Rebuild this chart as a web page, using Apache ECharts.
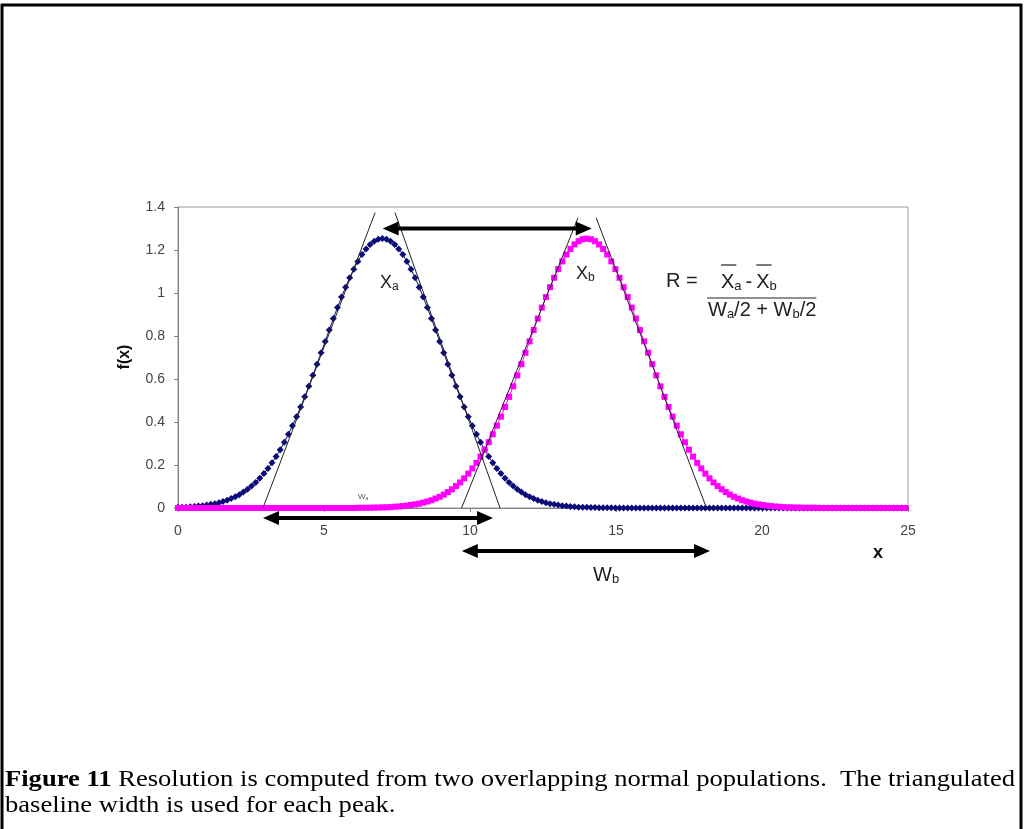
<!DOCTYPE html>
<html><head><meta charset="utf-8">
<script src="https://cdn.jsdelivr.net/npm/echarts@6/dist/echarts.min.js"></script>
<style>html,body{margin:0;padding:0;background:#fff}#c{width:1024px;height:829px}</style>
</head><body><div id="c"></div><script>
// sampling step of the x grid (points are evenly spaced along x)
const X_STEP = 0.14;
const xTicks = [0, 5, 10, 15, 20, 25];
const yTicks = [0, 0.2, 0.4, 0.6, 0.8, 1, 1.2, 1.4];

// population a (blue diamonds), peak near x = 7
const blueY = [
0.003,0.003,0.004,0.006,0.007,0.009,0.011,0.014,0.017,0.020,
0.025,0.030,0.036,0.044,0.052,0.062,0.074,0.087,0.102,0.119,
0.138,0.160,0.184,0.210,0.239,0.271,0.306,0.343,0.383,0.425,
0.470,0.517,0.566,0.617,0.669,0.722,0.775,0.828,0.881,0.932,
0.981,1.027,1.071,1.111,1.147,1.179,1.205,1.226,1.241,1.250,
1.253,
1.250,1.241,1.226,1.205,1.179,1.147,1.111,1.071,1.027,0.981,
0.932,0.881,0.828,0.775,0.722,0.669,0.617,0.566,0.517,0.470,
0.425,0.383,0.343,0.306,0.271,0.239,0.210,0.184,0.160,0.138,
0.119,0.102,0.087,0.074,0.062,0.052,0.044,0.036,0.030,0.025,
0.020,0.017,0.014,0.011,0.009,0.007,0.006,0.004,0.003,0.003,
0.002,0.002,0.001,0.001,0.001,0.001,
0,0,0,0,0,0,0,0,0,0,0,0,
0,0,0,0,0,0,0,0,0,0,0,0,
0,0,0,0,0,0,0,0,0,0,0,0,
0,0,0,0,0,0,0,0,0,0,0,0,
0,0,0,0,0,0,0,0,0,0,0,0,
0,0,0,0,0,0,0,0,0,0,0,0
];

// population b (magenta squares), peak near x = 14
const pinkY = [
0,0,0,0,0,0,0,0,0,0,0,
0,0,0,0,0,0,0,0,0,0,0,
0,0,0,0,0,0,0,0,0,0,0,
0,0,0,0,0,0,0,0,0,0,0,
0.001,0.001,0.001,0.001,0.002,0.002,
0.003,0.003,0.004,0.006,0.007,0.009,0.011,0.014,0.017,0.020,
0.025,0.030,0.036,0.044,0.052,0.062,0.074,0.087,0.102,0.119,
0.138,0.160,0.184,0.210,0.239,0.271,0.306,0.343,0.383,0.425,
0.470,0.517,0.566,0.617,0.669,0.722,0.775,0.828,0.881,0.932,
0.981,1.027,1.071,1.111,1.147,1.179,1.205,1.226,1.241,1.250,
1.253,
1.250,1.241,1.226,1.205,1.179,1.147,1.111,1.071,1.027,0.981,
0.932,0.881,0.828,0.775,0.722,0.669,0.617,0.566,0.517,0.470,
0.425,0.383,0.343,0.306,0.271,0.239,0.210,0.184,0.160,0.138,
0.119,0.102,0.087,0.074,0.062,0.052,0.044,0.036,0.030,0.025,
0.020,0.017,0.014,0.011,0.009,0.007,0.006,0.004,0.003,0.003,
0.002,0.002,0.001,0.001,0.001,0.001,
0,0,0,0,0,0,0,0,0,0,0,
0,0,0,0,0,0,0,0,0,0,0
];

// triangulation tangent lines [x, y] end points
const tanBlueL = [[2.91, 0], [6.75, 1.374]];
const tanBlueR = [[7.43, 1.374], [11.03, 0]];
const tanPinkL = [[9.71, 0], [13.7, 1.35]];
const tanPinkR = [[14.32, 1.35], [18.1, 0]];

// arrows: [xStart, xEnd, y]
const arrowTop = [7.01, 14.17, 1.30];
const arrowWa = [2.91, 10.79, -0.046];
const arrowWb = [9.72, 18.22, -0.20];

const captionLine1 = ['Figure 11', ' Resolution is computed from two overlapping normal populations.  The triangulated'];
const captionLine2 = 'baseline width is used for each peak.';

const toPairs = ys => ys.map((v, i) => [+(i * X_STEP).toFixed(2), v]);

const chart = echarts.init(document.getElementById('c'), null, {renderer: 'canvas'});
const FONT = "'Liberation Sans', Arial, sans-serif";
const SERIF = "'Liberation Serif', 'Times New Roman', serif";
const tickColor = '#444';

chart.setOption({
  animation: false,
  backgroundColor: '#fff',
  grid: {left: 178, top: 207, width: 730, height: 301, show: true, borderColor: '#999', borderWidth: 1, backgroundColor: 'transparent'},
  xAxis: {
    type: 'value', min: xTicks[0], max: xTicks[xTicks.length - 1], interval: 5,
    axisLine: {onZero: false, lineStyle: {color: '#808080'}},
    axisTick: {show: true, length: 4, lineStyle: {color: '#808080'}},
    splitLine: {show: false},
    axisLabel: {color: tickColor, fontFamily: FONT, fontSize: 14, margin: 16}
  },
  yAxis: {
    type: 'value', min: yTicks[0], max: yTicks[yTicks.length - 1], interval: 0.2,
    axisLine: {show: true, lineStyle: {color: '#808080'}},
    axisTick: {show: true, length: 4, lineStyle: {color: '#808080'}},
    splitLine: {show: false},
    axisLabel: {color: tickColor, fontFamily: FONT, fontSize: 14, margin: 13,
      formatter: v => String(+v.toFixed(1))}
  },
  series: [
    {type: 'line', data: toPairs(blueY), symbol: 'diamond', symbolSize: 7, clip: false,
     itemStyle: {color: '#0c0c78'}, lineStyle: {color: '#0c0c78', width: 1}, z: 3},
    {type: 'line', data: toPairs(pinkY), symbol: 'rect', symbolSize: 6, clip: false,
     itemStyle: {color: '#ff00ff'}, lineStyle: {color: '#ff00ff', width: 1}, z: 4},
    ...[tanBlueL, tanBlueR, tanPinkL, tanPinkR].map(d => ({
      type: 'line', data: d, symbol: 'none', clip: false,
      lineStyle: {color: '#222', width: 1}, z: 5
    }))
  ]
});

const P = (x, y) => chart.convertToPixel({gridIndex: 0}, [x, y]);

function arrow(spec) {
  const a = P(spec[0], spec[2]), b = P(spec[1], spec[2]);
  const L = 16, H = 7;
  return [
    {type: 'line', z: 100, shape: {x1: a[0] + L - 2, y1: a[1], x2: b[0] - L + 2, y2: b[1]}, style: {stroke: '#000', lineWidth: 4}},
    {type: 'polygon', z: 100, shape: {points: [[a[0], a[1]], [a[0] + L, a[1] - H], [a[0] + L, a[1] + H]]}, style: {fill: '#000'}},
    {type: 'polygon', z: 100, shape: {points: [[b[0], b[1]], [b[0] - L, b[1] - H], [b[0] - L, b[1] + H]]}, style: {fill: '#000'}}
  ];
}

const mctx = document.createElement('canvas').getContext('2d');
function measure(t, size, weight, family) {
  mctx.font = (weight || 'normal') + ' ' + size + 'px ' + (family || FONT);
  return mctx.measureText(t).width;
}
// lay out text pieces left to right (subscripts via dy)
function seq(x, y, parts, color) {
  const out = [];
  let cx = x;
  parts.forEach(p => {
    out.push({type: 'text', z: 100, x: cx, y: y + (p.dy || 0),
      style: {text: p.t, fontSize: p.s, fontFamily: FONT, fill: color || '#222', align: 'left', verticalAlign: 'middle'}});
    cx += measure(p.t, p.s);
  });
  return {els: out, end: cx};
}

const g = [];
// frame
g.push({type: 'line', shape: {x1: 1, y1: 5, x2: 1022, y2: 5}, style: {stroke: '#000', lineWidth: 3}});
g.push({type: 'line', shape: {x1: 2, y1: 4, x2: 2, y2: 829}, style: {stroke: '#000', lineWidth: 3}});
g.push({type: 'line', shape: {x1: 1021, y1: 4, x2: 1021, y2: 829}, style: {stroke: '#000', lineWidth: 3}});

g.push(...arrow(arrowTop), ...arrow(arrowWa), ...arrow(arrowWb));

// axis titles
g.push({type: 'text', z: 100, x: 125, y: 357, rotation: Math.PI / 2,
  style: {text: 'f(x)', fontSize: 16, fontWeight: 'bold', fontFamily: FONT, fill: '#111', align: 'center', verticalAlign: 'middle'}});
g.push({type: 'text', z: 100, x: 878, y: 553,
  style: {text: 'x', fontSize: 18, fontWeight: 'bold', fontFamily: FONT, fill: '#111', align: 'center', verticalAlign: 'middle'}});

// peak labels
g.push(...seq(380, 283, [{t: 'X', s: 18}, {t: 'a', s: 12, dy: 4}]).els);
g.push(...seq(576, 274, [{t: 'X', s: 18}, {t: 'b', s: 12, dy: 4}]).els);
g.push(...seq(593, 575, [{t: 'W', s: 20}, {t: 'b', s: 13, dy: 4}]).els);
g.push(...seq(358, 497, [{t: 'W', s: 8}, {t: 'a', s: 5, dy: 2}], '#555').els);

// formula
g.push(...seq(666, 281, [{t: 'R =', s: 20}]).els);
const numA = seq(721, 282, [{t: 'X', s: 20}, {t: 'a', s: 13, dy: 4}]);
const dash = seq(numA.end + 4, 282, [{t: '-', s: 20}]);
const numB = seq(dash.end + 4, 282, [{t: 'X', s: 20}, {t: 'b', s: 13, dy: 4}]);
g.push(...numA.els, ...dash.els, ...numB.els);
const xw = measure('X', 20);
g.push({type: 'line', z: 100, shape: {x1: 721, y1: 265, x2: 721 + xw + 2, y2: 265}, style: {stroke: '#222', lineWidth: 1.2}});
g.push({type: 'line', z: 100, shape: {x1: dash.end + 4, y1: 265, x2: dash.end + 4 + xw + 2, y2: 265}, style: {stroke: '#222', lineWidth: 1.2}});
const den = seq(708, 310, [{t: 'W', s: 20}, {t: 'a', s: 13, dy: 4}, {t: '/2 + ', s: 20}, {t: 'W', s: 20}, {t: 'b', s: 13, dy: 4}, {t: '/2', s: 20}]);
g.push(...den.els);
g.push({type: 'line', z: 100, shape: {x1: 707, y1: 298, x2: Math.max(den.end, 816), y2: 298}, style: {stroke: '#222', lineWidth: 1.2}});

// caption
const CS = 24;
const w1 = measure(captionLine1[0], CS, 'bold', SERIF) + measure(captionLine1[1], CS, 'normal', SERIF);
const sx = 1010 / w1;
g.push({type: 'text', z: 100, x: 5, y: 780, scaleX: sx,
  style: {text: '{b|' + captionLine1[0] + '}' + captionLine1[1], fontSize: CS, fontFamily: SERIF, fill: '#000', align: 'left', verticalAlign: 'middle',
    rich: {b: {fontWeight: 'bold', fontSize: CS, fontFamily: SERIF, fill: '#000'}}}});
g.push({type: 'text', z: 100, x: 5, y: 806, scaleX: sx,
  style: {text: captionLine2, fontSize: CS, fontFamily: SERIF, fill: '#000', align: 'left', verticalAlign: 'middle'}});

chart.setOption({graphic: {elements: g}});
</script></body></html>
